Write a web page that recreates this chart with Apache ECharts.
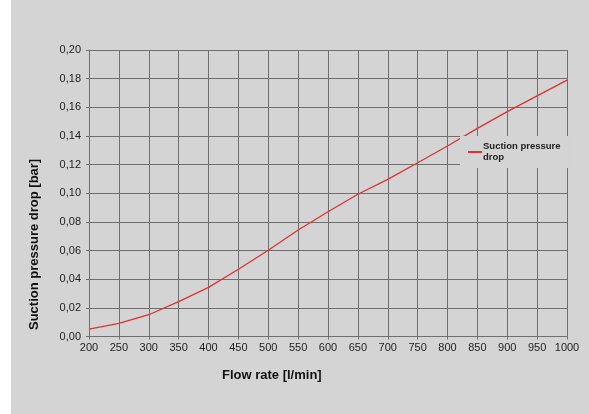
<!DOCTYPE html>
<html><head><meta charset="utf-8">
<script src="https://cdn.jsdelivr.net/npm/echarts@6/dist/echarts.min.js"></script>
<style>
html,body{margin:0;padding:0;background:#fff;width:589px;height:414px;overflow:hidden}
#c{position:absolute;left:11px;top:0;width:578px;height:414px;background:#d3d4d3}
</style></head><body>
<div id="c"></div>
<script>
const flowRates = [200,250,300,350,400,450,500,550,600,650,700,750,800,850,900,950,1000];
const pressureDrop = [0.0052,0.0092,0.0152,0.0243,0.0343,0.0469,0.0602,0.0743,0.0871,0.0993,0.1097,0.1213,0.133,0.1453,0.157,0.168,0.179];
const seriesName = 'Suction pressure drop';
const xTitle = 'Flow rate [l/min]';
const yTitle = 'Suction pressure drop [bar]';

const chart = echarts.init(document.getElementById('c'), null, {renderer:'canvas'});
const font = 'Liberation Sans, Arial, sans-serif';
const gridColor = '#6f6f6f';
chart.setOption({
  backgroundColor: '#d3d4d3',
  animation: false,
  grid: {left: 78, right: 22, top: 50, bottom: 77.5, show: false},
  xAxis: {
    type: 'value', min: 200, max: 1000, interval: 50,
    axisLine: {show: true, lineStyle: {color: gridColor, width: 1}},
    axisTick: {show: true, length: 3, lineStyle: {color: gridColor}},
    splitLine: {show: true, lineStyle: {color: gridColor, width: 1}},
    axisLabel: {color: '#1e1e1e', fontSize: 11, fontFamily: font, margin: 6,
      formatter: v => String(v)},
  },
  yAxis: {
    type: 'value', min: 0, max: 0.2, interval: 0.02,
    axisLine: {show: true, lineStyle: {color: gridColor, width: 1}},
    axisTick: {show: true, length: 3, lineStyle: {color: gridColor}},
    splitLine: {show: true, lineStyle: {color: gridColor, width: 1}},
    axisLabel: {color: '#1e1e1e', fontSize: 11, fontFamily: font, margin: 8,
      formatter: v => v.toFixed(2).replace('.', ',')},
  },
  legend: {
    left: 449, top: 136, orient: 'vertical',
    backgroundColor: '#d3d4d3', padding: [5, 8, 5, 8],
    itemWidth: 14, itemHeight: 2, itemGap: 2,
    icon: 'rect',
    formatter: () => 'Suction pressure\ndrop',
    textStyle: {fontSize: 9.5, fontWeight: 'bold', fontFamily: font, color: '#222', lineHeight: 11, padding: [0,0,0,-4]},
    data: [seriesName]
  },
  graphic: [
    {type: 'text', top: 369, left: 211, style: {text: xTitle, font: 'bold 13px ' + font, fill: '#111'}},
    {type: 'text', rotation: Math.PI / 2, x: 17, y: 330, style: {text: yTitle, font: 'bold 13px ' + font, fill: '#111'}}
  ],
  series: [{
    name: seriesName, type: 'line', showSymbol: false, symbol: 'none',
    lineStyle: {color: '#e03232', width: 1.3},
    itemStyle: {color: '#e03232'},
    data: flowRates.map((x, i) => [x, pressureDrop[i]])
  }]
});
</script>
</body></html>
